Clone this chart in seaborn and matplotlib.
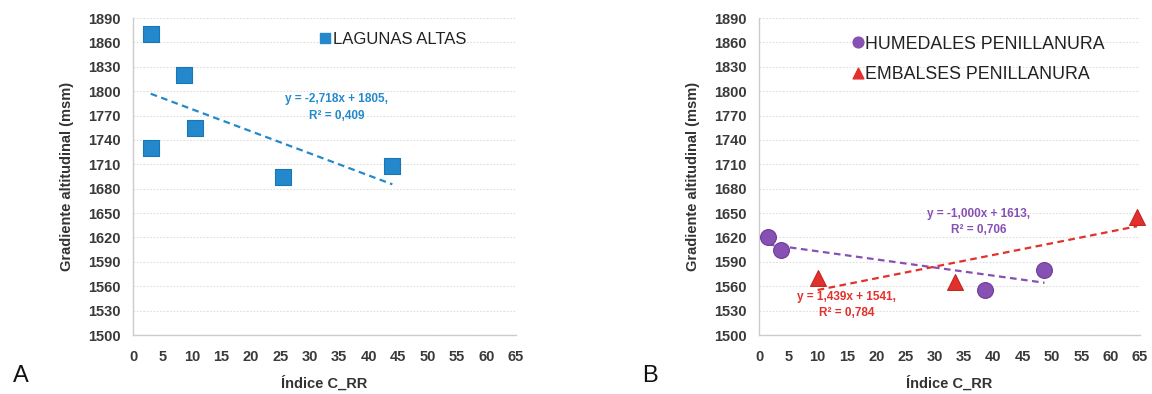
import numpy as np
import pandas as pd
import matplotlib
matplotlib.use("Agg")
import matplotlib.pyplot as plt
import seaborn as sns

sns.set_style("white")
plt.rcParams["font.family"] = ["Liberation Sans", "DejaVu Sans"]

# Panel A: lagunas altas
lag_x = [3.0, 8.7, 3.0, 10.5, 25.5, 44.0]
lag_y = [1870, 1820, 1730, 1755, 1695, 1708]
lag_fit = (-2.718, 1805)   # slope, intercept
lag_r2 = 0.409

# Panel B: humedales y embalses de penillanura
hum_x = [1.5, 3.7, 38.5, 48.7]
hum_y = [1620, 1605, 1555, 1580]
hum_fit = (-1.000, 1613)
hum_r2 = 0.706

emb_x = [10.0, 33.5, 64.5]
emb_y = [1570, 1565, 1645]
emb_fit = (1.439, 1541)
emb_r2 = 0.784

x_ticks = list(range(0, 66, 5))
y_ticks = list(range(1500, 1891, 30))

BLUE = "#2389cc"
PURPLE = "#8750b3"
RED = "#e2312c"
GRID = "#dedede"
TICK_TXT = "#3a3a3a"


def fmt(v, nd):
    return f"{v:.{nd}f}".replace(".", ",")


def eq_label(fit, r2):
    m, b = fit
    sign = "+" if b >= 0 else "-"
    return f"y = {fmt(m, 3)}x {sign} {abs(b):.0f},\nR² = {fmt(r2, 3)}"


def style_axes(ax):
    ax.set_xlim(0, 65)
    ax.set_ylim(1500, 1890)
    ax.set_xticks(x_ticks)
    ax.set_yticks(y_ticks)
    ax.tick_params(axis="both", labelsize=10.5, colors="#b8b8b8",
                   labelcolor=TICK_TXT, length=4, width=0.8, direction="out")
    ax.tick_params(axis="x", pad=7)
    ax.tick_params(axis="y", pad=5)
    for lbl in ax.get_xticklabels() + ax.get_yticklabels():
        lbl.set_fontweight("bold")
    ax.yaxis.grid(True, color=GRID, linestyle=(0, (1.5, 1.5)), linewidth=0.8)
    ax.xaxis.grid(False)
    ax.set_axisbelow(True)
    for s in ("top", "right"):
        ax.spines[s].set_visible(False)
    for s in ("left", "bottom"):
        ax.spines[s].set_color("#cccccc")
        ax.spines[s].set_linewidth(1.0)
    ax.set_xlabel("Índice C_RR", fontsize=10.5, fontweight="bold",
                  color="#333333", labelpad=8)
    ax.set_ylabel("Gradiente altitudinal (msm)", fontsize=10.5,
                  fontweight="bold", color="#333333", labelpad=10)


def trend(ax, xs, fit, color):
    m, b = fit
    xx = np.array([min(xs), max(xs)])
    df = pd.DataFrame({"x": xx, "y": m * xx + b})
    sns.lineplot(data=df, x="x", y="y", ax=ax, color=color,
                 linestyle=(0, (3, 2)), linewidth=1.6, legend=False)


fig = plt.figure(figsize=(11.52, 3.94), dpi=100)
axA = fig.add_axes([0.1155, 0.1497, 0.3325, 0.8046])
axB = fig.add_axes([0.6589, 0.1497, 0.3307, 0.8046])

# ---- Panel A ----
trend(axA, lag_x, lag_fit, BLUE)
dfA = pd.DataFrame({"x": lag_x, "y": lag_y})
sns.scatterplot(data=dfA, x="x", y="y", ax=axA, marker="s", s=120,
                color=BLUE, edgecolor="#1b76b3", linewidth=0.8, zorder=3,
                clip_on=False)
style_axes(axA)
axA.text(34.5, 1780, eq_label(lag_fit, lag_r2), color=BLUE, fontsize=8.5,
         fontweight="bold", ha="center", va="center", linespacing=1.5)
axA.scatter([32.5], [1865], marker="s", s=55, color=BLUE)
axA.text(34.0, 1864, "LAGUNAS ALTAS", fontsize=12, color="#222222",
         va="center", ha="left")

# ---- Panel B ----
trend(axB, hum_x, hum_fit, PURPLE)
trend(axB, emb_x, emb_fit, RED)
dfH = pd.DataFrame({"x": hum_x, "y": hum_y})
dfE = pd.DataFrame({"x": emb_x, "y": emb_y})
sns.scatterplot(data=dfH, x="x", y="y", ax=axB, marker="o", s=130,
                color=PURPLE, edgecolor="#6f3c98", linewidth=0.8, zorder=3,
                clip_on=False)
sns.scatterplot(data=dfE, x="x", y="y", ax=axB, marker="^", s=130,
                color=RED, edgecolor="#c42522", linewidth=0.8, zorder=3,
                clip_on=False)
style_axes(axB)
axB.text(37.5, 1639, eq_label(hum_fit, hum_r2), color=PURPLE, fontsize=8.5,
         fontweight="bold", ha="center", va="center", linespacing=1.5)
axB.text(15.0, 1537, eq_label(emb_fit, emb_r2), color=RED, fontsize=8.5,
         fontweight="bold", ha="center", va="center", linespacing=1.5)
axB.scatter([16.8], [1860], marker="o", s=60, color=PURPLE)
axB.text(18.0, 1858, "HUMEDALES PENILLANURA", fontsize=12.8,
         color="#222222", va="center", ha="left")
axB.scatter([16.8], [1822], marker="^", s=60, color=RED)
axB.text(18.0, 1821, "EMBALSES PENILLANURA", fontsize=12.8,
         color="#222222", va="center", ha="left")

# panel letters
fig.text(0.011, 0.03, "A", fontsize=17, color="#111111")
fig.text(0.557, 0.03, "B", fontsize=17, color="#111111")

fig.savefig("out.png", dpi=100)
